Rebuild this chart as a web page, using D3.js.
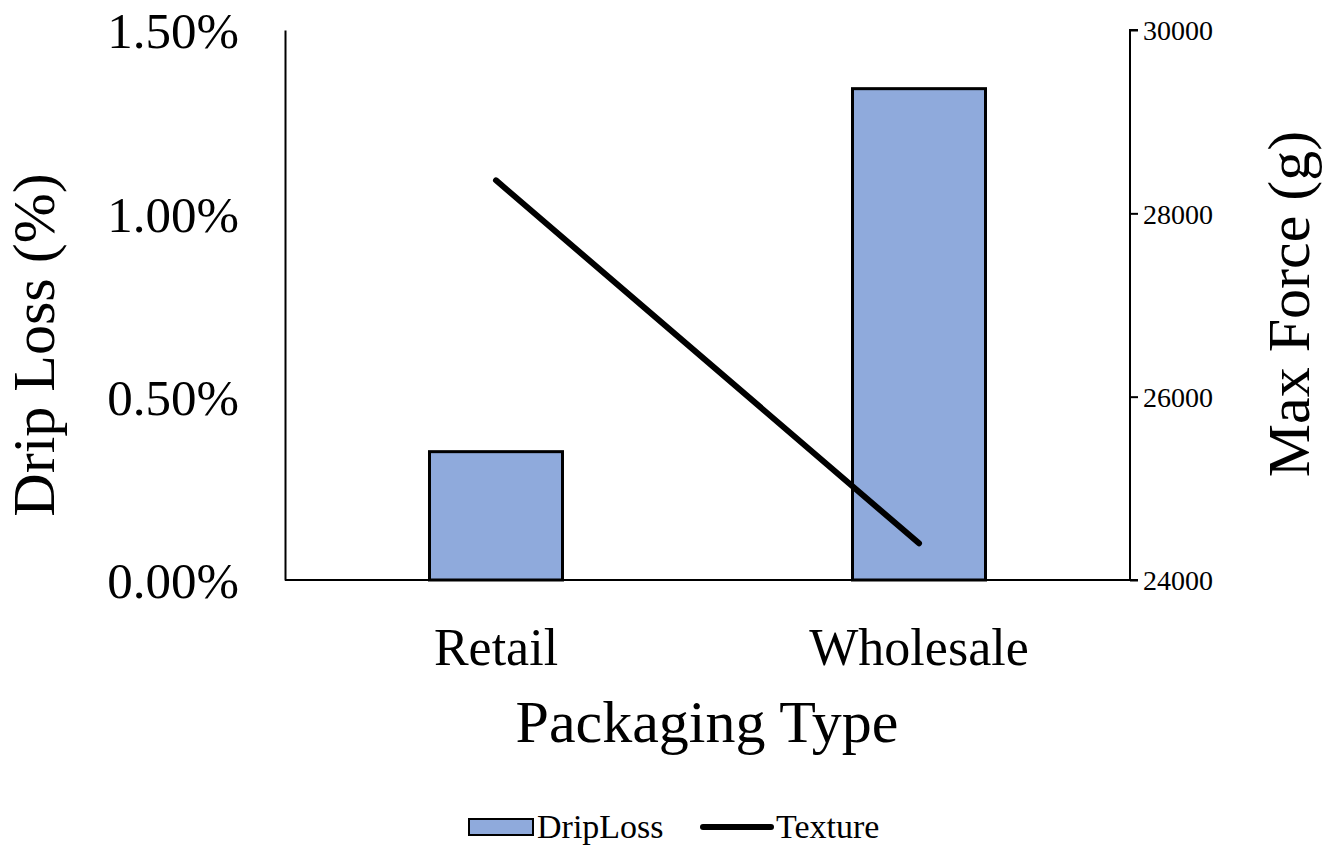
<!DOCTYPE html>
<html><head><meta charset="utf-8">
<script src="https://cdn.jsdelivr.net/npm/d3@7"></script>
<style>body{margin:0;background:#fff}svg{display:block}text{font-family:"Liberation Serif","Times New Roman",serif;fill:#000}</style>
</head><body>
<svg id="c" width="1332" height="850"></svg>
<script>
const categories = ["Retail", "Wholesale"];
const dripLoss = [0.0035, 0.0134];
const texture = [28360, 24400];
const leftTicks = [0, 0.005, 0.01, 0.015];
const rightTicks = [24000, 26000, 28000, 30000];

const svg = d3.select("#c");
const L = 285, R = 1130, T = 30, B = 580;
const x = d3.scaleBand().domain(categories).range([L, R]).paddingInner(0.6856).paddingOuter(0.3416);
const yL = d3.scaleLinear().domain([0, 0.015]).range([B, T]);
const yR = d3.scaleLinear().domain([24000, 30000]).range([B, T]);

// bars
svg.selectAll("rect.bar").data(categories).enter().append("rect")
  .attr("x", d => x(d)).attr("width", x.bandwidth())
  .attr("y", (d, i) => yL(dripLoss[i])).attr("height", (d, i) => B - yL(dripLoss[i]))
  .attr("fill", "#8FAADC").attr("stroke", "#000").attr("stroke-width", 3);

// left axis
const gl = svg.append("g").attr("transform", `translate(${L},0)`)
  .call(d3.axisLeft(yL).tickValues(leftTicks).tickSize(0).tickPadding(46).tickFormat(d3.format(".2%")));
gl.select(".domain").attr("stroke", "#000").attr("stroke-width", 2);
gl.selectAll("text").style("font-size", "51px").attr("dy", "0.35em");

// right axis
const gr = svg.append("g").attr("transform", `translate(${R},0)`)
  .call(d3.axisRight(yR).tickValues(rightTicks).tickSize(8).tickPadding(5).tickFormat(d3.format("d")));
gr.select(".domain").attr("stroke", "#000").attr("stroke-width", 2).attr("d", `M8,${T}H0V${B}H8`);
gr.selectAll(".tick line").attr("stroke", "#000").attr("stroke-width", 2);
gr.selectAll("text").style("font-size", "28px").attr("dy", "0.35em");

// bottom axis
const gb = svg.append("g").attr("transform", `translate(0,${B})`)
  .call(d3.axisBottom(x).tickSize(0).tickPadding(48));
gb.select(".domain").attr("stroke", "#000").attr("stroke-width", 2).attr("d", `M${L},0H${R}`);
gb.selectAll("text").style("font-size", "52px");

// line
const line = d3.line().x((d, i) => x(categories[i]) + x.bandwidth() / 2).y(d => yR(d));
svg.append("path").datum(texture).attr("d", line).attr("fill", "none")
  .attr("stroke", "#000").attr("stroke-width", 6).attr("stroke-linecap", "round");

// titles
svg.append("text").attr("x", 707).attr("y", 742).attr("text-anchor", "middle").style("font-size", "60px").text("Packaging Type");
svg.append("text").attr("transform", "translate(54,345) rotate(-90)").attr("text-anchor", "middle").style("font-size", "60px").text("Drip Loss (%)");
svg.append("text").attr("transform", "translate(1309,304) rotate(-90)").attr("text-anchor", "middle").style("font-size", "60px").text("Max Force (g)");

// legend
const lg = svg.append("g");
lg.append("rect").attr("x", 469).attr("y", 819).attr("width", 64).attr("height", 16).attr("fill", "#8FAADC").attr("stroke", "#000").attr("stroke-width", 2);
lg.append("text").attr("x", 537).attr("y", 838).style("font-size", "34px").text("DripLoss");
lg.append("line").attr("x1", 703).attr("x2", 771).attr("y1", 827).attr("y2", 827).attr("stroke", "#000").attr("stroke-width", 6).attr("stroke-linecap", "round");
lg.append("text").attr("x", 776).attr("y", 838).style("font-size", "34px").text("Texture");
</script>
</body></html>
